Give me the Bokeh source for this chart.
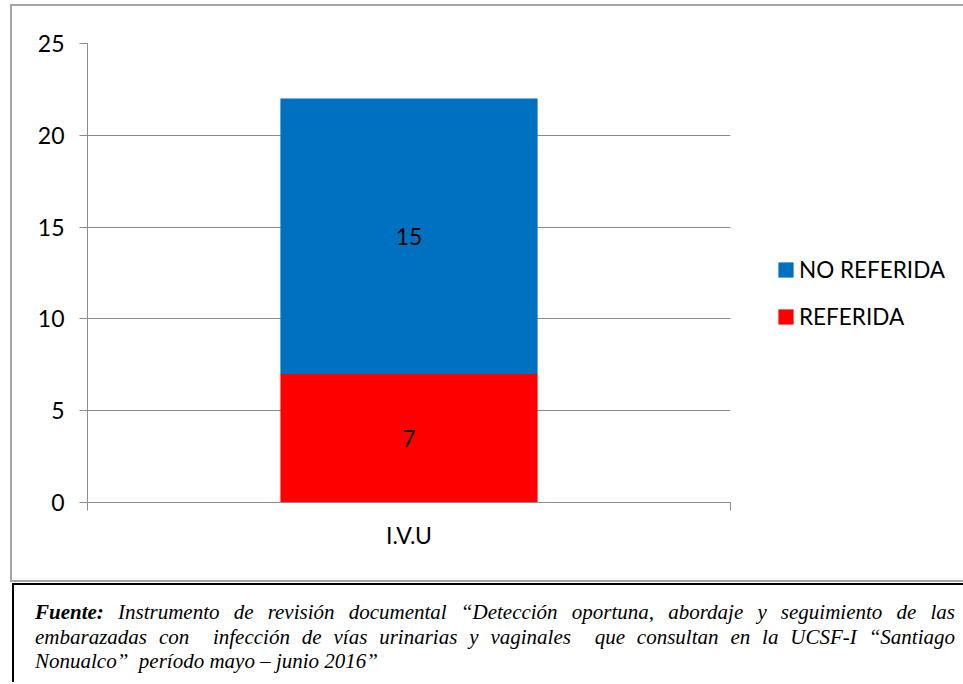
from bokeh.plotting import figure
from bokeh.models import (Range1d, FixedTicker, ColumnDataSource, LabelSet,
                          Legend, LegendItem, Div)
from bokeh.layouts import column, row
from bokeh.core.properties import value
from bokeh.embed import file_html
from bokeh.resources import INLINE

# ---- data ----
categories = ["I.V.U"]
referida = [7]
no_referida = [15]
series_names = ["REFERIDA", "NO REFERIDA"]
series_colors = ["#FF0000", "#0070C0"]
y_ticks = [0, 5, 10, 15, 20, 25]

FONT = "Lato"
GRAY = "#8c8c8c"
FS = "23px"

xpos = [i + 0.5 for i in range(len(categories))]
src = ColumnDataSource(dict(
    x=xpos,
    ref_bottom=[0] * len(categories),
    ref_top=referida,
    no_bottom=referida,
    no_top=[a + b for a, b in zip(referida, no_referida)],
    ref_mid=[r / 2 for r in referida],
    no_mid=[a + b / 2 for a, b in zip(referida, no_referida)],
    ref_txt=[str(v) for v in referida],
    no_txt=[str(v) for v in no_referida],
))

p = figure(width=720, height=574, output_backend="svg", toolbar_location=None,
           x_range=Range1d(0, len(categories)), y_range=Range1d(0, 25),
           min_border_left=75, min_border_top=37, min_border_right=2, min_border_bottom=78)
p.outline_line_color = None
p.background_fill_color = "white"
p.border_fill_color = "white"

r_ref = p.vbar(x="x", bottom="ref_bottom", top="ref_top", width=0.4, source=src,
               fill_color=series_colors[0], line_color=None)
r_no = p.vbar(x="x", bottom="no_bottom", top="no_top", width=0.4, source=src,
              fill_color=series_colors[1], line_color=None)

# y axis
p.yaxis.ticker = FixedTicker(ticks=y_ticks)
p.yaxis.axis_line_color = GRAY
p.yaxis.major_tick_line_color = GRAY
p.yaxis.major_tick_in = 0
p.yaxis.major_tick_out = 8
p.yaxis.minor_tick_line_color = None
p.yaxis.major_label_text_font = FONT
p.yaxis.major_label_text_font_size = FS
p.yaxis.major_label_text_color = "black"
p.yaxis.major_label_standoff = 15

p.ygrid.ticker = FixedTicker(ticks=y_ticks)
p.ygrid.grid_line_color = GRAY
p.xgrid.grid_line_color = None

# x axis: ticks at category edges, category name as label
edges = list(range(len(categories) + 1))
p.xaxis.ticker = FixedTicker(ticks=edges)
p.xaxis.major_label_overrides = {e: "" for e in edges}
p.xaxis.axis_line_color = GRAY
p.xaxis.major_tick_line_color = GRAY
p.xaxis.major_tick_in = 0
p.xaxis.major_tick_out = 8
p.xaxis.minor_tick_line_color = None
p.xaxis.major_label_standoff = 0
p.xaxis.axis_label = categories[0]
p.xaxis.axis_label_text_font = FONT
p.xaxis.axis_label_text_font_size = FS
p.xaxis.axis_label_text_font_style = "normal"
p.xaxis.axis_label_text_color = "black"
p.xaxis.axis_label_standoff = 10

# data labels
for ycol, tcol in (("ref_mid", "ref_txt"), ("no_mid", "no_txt")):
    p.add_layout(LabelSet(x="x", y=ycol, text=tcol, source=src,
                          text_align="center", text_baseline="middle",
                          text_font=value(FONT), text_font_size=FS, text_color="black"))

# legend in its own panel figure (same series, drawn out of view so only the key shows)
lf = figure(width=231, height=574, output_backend="svg", toolbar_location=None,
            x_range=Range1d(-3, -2), y_range=Range1d(0, 1),
            x_axis_location=None, y_axis_location=None,
            min_border_left=0, min_border_right=0, min_border_top=0, min_border_bottom=0)
lf.outline_line_color = None
lf.grid.visible = False
lf.background_fill_color = "white"
lf.border_fill_color = "white"
l_ref = lf.vbar(x="x", bottom="ref_bottom", top="ref_top", width=0.4, source=src,
                fill_color=series_colors[0], line_color=None)
l_no = lf.vbar(x="x", bottom="no_bottom", top="no_top", width=0.4, source=src,
               fill_color=series_colors[1], line_color=None)
legend = Legend(items=[LegendItem(label=series_names[1], renderers=[l_no]),
                       LegendItem(label=series_names[0], renderers=[l_ref])],
                location=(44, 172), orientation="vertical",
                glyph_width=19, glyph_height=19, label_height=26, label_standoff=4,
                spacing=20, padding=0, margin=0, border_line_color=None,
                background_fill_alpha=0,
                label_text_font=FONT, label_text_font_size="22.5px", label_text_color="black")
lf.add_layout(legend, "center")

chart = row(p, lf, spacing=0, margin=(4, 0, 0, 10),
            styles={"border-left": "2px solid #a6a6a6", "border-top": "2px solid #a6a6a6",
                    "border-bottom": "2px solid #a6a6a6"})

caption_html = (
    '<div style="box-sizing:border-box; width:951px; height:99px; '
    'border-left:2px solid #000; border-top:2px solid #000; '
    'padding:15px 8px 0 21px; font-family:\'Liberation Serif\'; font-style:italic; '
    'font-size:21px; line-height:24.5px; color:#000;">'
    '<div style="text-align:justify; text-align-last:justify;"><b>Fuente:</b> Instrumento de revisión documental “Detección oportuna, abordaje y seguimiento de las</div>'
    '<div style="text-align:justify; text-align-last:justify;">embarazadas con&nbsp; infección de vías urinarias y vaginales&nbsp; que consultan en la UCSF-I “Santiago</div>'
    '<div style="text-align:left;">Nonualco”&nbsp; período mayo – junio 2016”</div>'
    '</div>'
)
cap = Div(text=caption_html, width=951, height=99, margin=(1, 0, 0, 12))

layout = column(chart, cap, margin=0, spacing=0)
open("out.html", "w").write(file_html(layout, INLINE))
